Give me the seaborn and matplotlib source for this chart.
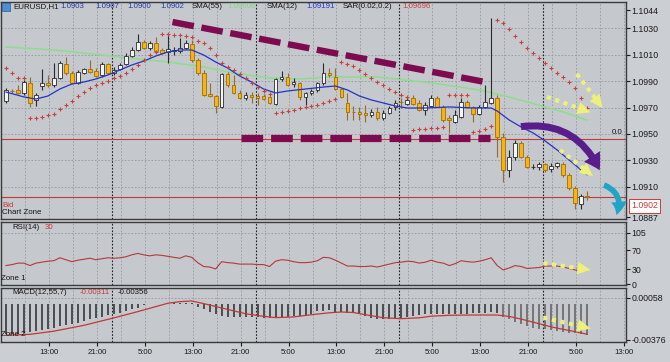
import numpy as np
import matplotlib
matplotlib.use("Agg")
import matplotlib.pyplot as plt
import seaborn as sns
from matplotlib.patches import FancyArrowPatch, Rectangle

plt.rcParams["font.family"] = ["Liberation Sans", "DejaVu Sans"]

# ---- EURUSD H1, values ----
opens = [1.09750, 1.09826, 1.09834, 1.09811, 1.09887, 1.09758, 1.09864, 1.09887, 1.09871, 1.09925,
         1.10031, 1.09962, 1.09887, 1.09962, 1.09993, 1.09978, 1.09947, 1.10031, 1.09962, 1.09993,
         1.10031, 1.10091, 1.10137, 1.10197, 1.10152, 1.10190, 1.10137, 1.10122, 1.10129, 1.10129,
         1.10152, 1.10182, 1.10061, 1.09962, 1.09803, 1.09788, 1.09705, 1.09955, 1.09871, 1.09811,
         1.09773, 1.09796, 1.09788, 1.09788, 1.09781, 1.09727, 1.09917, 1.09932, 1.09879, 1.09887,
         1.09781, 1.09811, 1.09834, 1.09887, 1.09962, 1.09932, 1.09841, 1.09735, 1.09667, 1.09667,
         1.09659, 1.09644, 1.09667, 1.09621, 1.09659, 1.09705, 1.09743, 1.09727, 1.09773, 1.09735,
         1.09682, 1.09712, 1.09773, 1.09705, 1.09621, 1.09591, 1.09629, 1.09743, 1.09705, 1.09652,
         1.09705, 1.09735, 1.09773, 1.09477, 1.09227, 1.09326, 1.09432, 1.09326, 1.09250, 1.09250,
         1.09273, 1.09235, 1.09258, 1.09273, 1.09189, 1.09091, 1.08970, 1.09030]
highs = [1.09849, 1.09841, 1.09871, 1.09909, 1.09932, 1.09811, 1.09993, 1.09947, 1.10038, 1.10053,
         1.10084, 1.09978, 1.09985, 1.10000, 1.10061, 1.10000, 1.10046, 1.10038, 1.10008, 1.10038,
         1.10114, 1.10160, 1.10258, 1.10213, 1.10205, 1.10235, 1.10152, 1.10250, 1.10160, 1.10228,
         1.10213, 1.10213, 1.10076, 1.09985, 1.09887, 1.09796, 1.09962, 1.09970, 1.09947, 1.09834,
         1.09818, 1.09818, 1.09811, 1.09803, 1.09788, 1.09925, 1.09978, 1.09962, 1.09925, 1.09894,
         1.09818, 1.09841, 1.09894, 1.10038, 1.10000, 1.10000, 1.09849, 1.09811, 1.09712, 1.09705,
         1.09720, 1.09690, 1.09705, 1.09682, 1.09712, 1.09758, 1.09773, 1.09781, 1.09796, 1.09758,
         1.09743, 1.09796, 1.09788, 1.09720, 1.09644, 1.09682, 1.09773, 1.09758, 1.09712, 1.09720,
         1.09871, 1.10379, 1.09796, 1.09508, 1.09379, 1.09455, 1.09447, 1.09341, 1.09273, 1.09288,
         1.09280, 1.09280, 1.09288, 1.09288, 1.09205, 1.09106, 1.09045, 1.09070]
lows = [1.09735, 1.09811, 1.09803, 1.09796, 1.09705, 1.09712, 1.09834, 1.09856, 1.09856, 1.09917,
        1.09947, 1.09879, 1.09879, 1.09955, 1.09962, 1.09932, 1.09932, 1.09955, 1.09947, 1.09985,
        1.10023, 1.10084, 1.10129, 1.10144, 1.10137, 1.10114, 1.10106, 1.10038, 1.10099, 1.10114,
        1.10144, 1.10046, 1.09947, 1.09788, 1.09781, 1.09659, 1.09697, 1.09856, 1.09803, 1.09765,
        1.09758, 1.09735, 1.09720, 1.09758, 1.09727, 1.09720, 1.09902, 1.09864, 1.09856, 1.09758,
        1.09720, 1.09796, 1.09818, 1.09871, 1.09932, 1.09834, 1.09773, 1.09606, 1.09606, 1.09606,
        1.09591, 1.09629, 1.09606, 1.09606, 1.09652, 1.09682, 1.09697, 1.09720, 1.09720, 1.09674,
        1.09644, 1.09705, 1.09705, 1.09591, 1.09508, 1.09583, 1.09621, 1.09697, 1.09591, 1.09644,
        1.09697, 1.09727, 1.09326, 1.09136, 1.09174, 1.09303, 1.09318, 1.09242, 1.09235, 1.09227,
        1.09212, 1.09212, 1.09242, 1.09174, 1.09076, 1.08932, 1.08932, 1.09000]
closes = [1.09834, 1.09824, 1.09811, 1.09894, 1.09735, 1.09796, 1.09887, 1.09871, 1.09925, 1.10038,
          1.09962, 1.09887, 1.09970, 1.09993, 1.09970, 1.09940, 1.10031, 1.09962, 1.09985, 1.10023,
          1.10091, 1.10137, 1.10197, 1.10152, 1.10190, 1.10129, 1.10114, 1.10144, 1.10137, 1.10152,
          1.10190, 1.10061, 1.09962, 1.09796, 1.09788, 1.09712, 1.09955, 1.09871, 1.09811, 1.09773,
          1.09796, 1.09781, 1.09773, 1.09765, 1.09735, 1.09917, 1.09932, 1.09871, 1.09894, 1.09781,
          1.09811, 1.09826, 1.09887, 1.09962, 1.09947, 1.09841, 1.09781, 1.09667, 1.09664, 1.09652,
          1.09644, 1.09667, 1.09621, 1.09659, 1.09697, 1.09735, 1.09740, 1.09758, 1.09727, 1.09682,
          1.09720, 1.09773, 1.09705, 1.09606, 1.09606, 1.09644, 1.09743, 1.09705, 1.09652, 1.09705,
          1.09743, 1.09773, 1.09477, 1.09227, 1.09326, 1.09432, 1.09326, 1.09250, 1.09252, 1.09273,
          1.09227, 1.09258, 1.09280, 1.09189, 1.09091, 1.08977, 1.09030, 1.09020]

# Parabolic SAR (0.02, 0.2), one dot per bar
sar = [1.10000, 1.09962, 1.09925, 1.09925, 1.09621, 1.09621, 1.09629, 1.09644, 1.09652, 1.09690,
       1.09720, 1.09750, 1.09788, 1.09818, 1.09849, 1.09871, 1.09887, 1.09902, 1.09925, 1.09940,
       1.09962, 1.09993, 1.10023, 1.10061, 1.10099, 1.10122, 1.10258, 1.10258, 1.10250, 1.10250,
       1.10243, 1.10235, 1.10205, 1.10190, 1.10152, 1.10099, 1.10038, 1.10008, 1.09985, 1.09955,
       1.09925, 1.09887, 1.09856, 1.09826, 1.09803, 1.09659, 1.09667, 1.09674, 1.09682, 1.09697,
       1.09705, 1.09712, 1.09720, 1.09735, 1.09750, 1.09765, 1.10046, 1.10031, 1.10015, 1.09985,
       1.09955, 1.09925, 1.09894, 1.09871, 1.09841, 1.09818, 1.09796, 1.09781, 1.09530, 1.09538,
       1.09538, 1.09546, 1.09546, 1.09553, 1.09796, 1.09796, 1.09796, 1.09796, 1.09515, 1.09523,
       1.09538, 1.09561, 1.10364, 1.10341, 1.10296, 1.10243, 1.10197, 1.10152, 1.10114, 1.10076,
       1.10038, 1.10000, 1.09962, 1.09932, 1.09894, 1.09849, 1.09773, 1.09697]

# moving averages, read at a subset of bars
sma12_bar = [0, 3, 5, 7, 9, 11, 13, 15, 17, 19, 21, 23, 25, 27, 29, 31, 33, 35, 37, 39, 41, 43, 45,
             47, 50, 53, 55, 57, 59, 61, 63, 65, 67, 70, 74, 78, 81, 82, 84, 86, 88, 90, 92, 94, 96, 97]
sma12 = [1.09818, 1.09781, 1.09765, 1.09788, 1.09841, 1.09879, 1.09894, 1.09917, 1.09947, 1.09985,
         1.10023, 1.10053, 1.10091, 1.10122, 1.10137, 1.10137, 1.10099, 1.10046, 1.10000, 1.09940,
         1.09894, 1.09841, 1.09811, 1.09826, 1.09841, 1.09856, 1.09864, 1.09834, 1.09788, 1.09758,
         1.09735, 1.09712, 1.09697, 1.09697, 1.09705, 1.09697, 1.09697, 1.09674, 1.09606, 1.09553,
         1.09508, 1.09447, 1.09379, 1.09303, 1.09227, 1.09191]
sma55_bar = [0, 8, 16, 22, 27, 33, 38, 44, 49, 54, 62, 71, 79, 82, 87, 93, 97]
sma55 = [1.10160, 1.10137, 1.10099, 1.10069, 1.10046, 1.10008, 1.09962, 1.09925, 1.09917, 1.09932,
         1.09932, 1.09887, 1.09834, 1.09803, 1.09743, 1.09667, 1.09606]

rsi = [38, 40, 43, 43, 38, 43, 45, 47, 48, 54, 50, 46, 49, 51, 53, 50, 52, 54, 53, 54,
       56, 60, 63, 60, 58, 60, 59, 57, 55, 53, 58, 55, 44, 36, 35, 31, 46, 44, 43, 41,
       41, 41, 40, 40, 36, 47, 50, 49, 46, 44, 44, 45, 48, 55, 54, 49, 43, 37, 37, 36,
       36, 37, 35, 38, 41, 44, 45, 47, 46, 43, 45, 49, 45, 43, 38, 42, 48, 46, 45, 47,
       50, 54, 38, 29, 33, 38, 36, 32, 33, 34, 37, 37, 37, 35, 32, 29, 27, 28]

macd_hist = [-0.00317, -0.00317, -0.00311, -0.00301, -0.00293, -0.00283, -0.00273, -0.00259, -0.00249, -0.00231,
             -0.00221, -0.00208, -0.00197, -0.00180, -0.00162, -0.00152, -0.00138, -0.00121, -0.00104, -0.00094,
             -0.00076, -0.00059, -0.00042, -0.00018, -0.00008, -0.00006, -0.00005, -0.00003, 0.00010, 0.00010,
             0.00010, 0.00005, -0.00032, -0.00059, -0.00087, -0.00111, -0.00128, -0.00135, -0.00135, -0.00138,
             -0.00138, -0.00135, -0.00135, -0.00146, -0.00146, -0.00146, -0.00146, -0.00135, -0.00128, -0.00128,
             -0.00121, -0.00105, -0.00080, -0.00080, -0.00066, -0.00087, -0.00087, -0.00094, -0.00101, -0.00111,
             -0.00128, -0.00146, -0.00156, -0.00163, -0.00163, -0.00156, -0.00146, -0.00135, -0.00128, -0.00121,
             -0.00111, -0.00111, -0.00111, -0.00111, -0.00111, -0.00111, -0.00111, -0.00111, -0.00101, -0.00101,
             -0.00094, -0.00087, -0.00094, -0.00135, -0.00163, -0.00190, -0.00214, -0.00231, -0.00249, -0.00259,
             -0.00266, -0.00273, -0.00283, -0.00293, -0.00301, -0.00307, -0.00317, -0.00328]
signal_bar = [0, 4, 8, 13, 18, 22, 27, 29, 31, 33, 36, 40, 43, 45, 48, 51, 54, 56, 58, 60,
              63, 66, 69, 71, 74, 78, 82, 84, 86, 89, 91, 93, 95, 97]
signal = [-0.00327, -0.00318, -0.00285, -0.00225, -0.00148, -0.00083, 0.00003, 0.00020, 0.00027, 0.00000,
          -0.00045, -0.00105, -0.00132, -0.00145, -0.00138, -0.00115, -0.00095, -0.00087, -0.00092, -0.00115,
          -0.00146, -0.00156, -0.00147, -0.00130, -0.00121, -0.00118, -0.00118, -0.00133, -0.00160, -0.00208,
          -0.00240, -0.00266, -0.00290, -0.00317]

time_labels = ["13:00", "21:00", "5:00", "13:00", "21:00", "5:00", "13:00",
               "21:00", "5:00", "13:00", "21:00", "5:00", "13:00"]
day_breaks = [17.67, 41.67, 65.67, 89.67]
price_ticks = [1.1044, 1.1030, 1.1010, 1.0990, 1.0970, 1.0950, 1.0930, 1.0910, 1.0887]
level_line = 1.09462
bid = 1.0902

# ---- colours ----
BG = "#c5c8cd"
GRID = "#959aa1"
FRAME = "#3a3a3a"
BULL, BEAR = "#f3f6f6", "#f4b414"
RED = "#c23a3a"
PURPLE_DASH = "#7e0a50"
PURPLE = "#5a1e8c"
YEL = "#eef07c"
TEAL = "#22a4c6"

W, H = 670, 362
fig = plt.figure(figsize=(W / 100, H / 100), dpi=100, facecolor="#cbced2")


def box(x0, y0, x1, y1):
    return [x0 / W, 1 - y1 / H, (x1 - x0) / W, (y1 - y0) / H]


ax = fig.add_axes(box(1, 2, 626, 219))
ax_rsi = fig.add_axes(box(1, 222, 626, 285))
ax_macd = fig.add_axes(box(1, 288, 626, 342))

bars = np.arange(len(closes))
xmin, xmax = -0.83, 103.5
grid_x = np.arange(3.17, xmax, 4)

for a in (ax, ax_rsi, ax_macd):
    a.set_facecolor(BG)
    a.set_xlim(xmin, xmax)
    for s in a.spines.values():
        s.set_color(FRAME)
        s.set_linewidth(1.0)
    for gx in grid_x:
        a.axvline(gx, color=GRID, lw=0.6, ls=(0, (2, 2)), zorder=0)
    for d in day_breaks:
        a.axvline(d, color="#1e1e1e", lw=0.8, ls=(0, (1.5, 1.5)), zorder=1)
    a.yaxis.tick_right()
    a.tick_params(axis="y", length=3, width=0.8, pad=1, labelsize=6.3, colors="#1a1a1a")

# ---- main price panel ----
for p in price_ticks[1:-1]:
    ax.axhline(p, color=GRID, lw=0.6, ls=(0, (2, 2)), zorder=0)

ax.axhline(level_line, color=RED, lw=0.8, zorder=1)
ax.axhline(bid, color=RED, lw=0.8, zorder=1)

sns.lineplot(x=sma55_bar, y=sma55, ax=ax, color="#8edc8e", lw=1.1, zorder=2)
sns.lineplot(x=sma12_bar, y=sma12, ax=ax, color="#2433c8", lw=0.9, zorder=4)

o, h, l, c = map(np.array, (opens, highs, lows, closes))
up = c >= o
ax.vlines(bars[up], l[up], h[up], color="#2a2a2a", lw=0.8, zorder=3)
ax.vlines(bars[~up], l[~up], h[~up], color="#9a6a28", lw=0.8, zorder=3)
body_lo = np.minimum(o, c)
body_h = np.maximum(np.abs(c - o), 0.000012)
ax.bar(bars[up], body_h[up], bottom=body_lo[up], width=0.62, color=BULL,
       edgecolor="#2a2a2a", linewidth=0.6, zorder=3)
ax.bar(bars[~up], body_h[~up], bottom=body_lo[~up], width=0.62, color=BEAR,
       edgecolor="#a36d00", linewidth=0.6, zorder=3)

sns.scatterplot(x=bars, y=sar, ax=ax, marker="+", s=10, color="#c8413f",
                linewidth=0.8, zorder=5, legend=False)

ax.set_xlim(xmin, xmax)
ax.set_ylim(1.08855, 1.10501)
ax.set_yticks(price_ticks)
ax.set_yticklabels([f"{p:.4f}" for p in price_ticks])
ax.set_xticks([])
ax.set_xlabel("")
ax.set_ylabel("")

# hand drawn trend marks
ax.plot([27.8, 80.8], [1.10349, 1.09887], color=PURPLE_DASH, lw=4.6,
        dashes=(3.4, 1.2), dash_capstyle="butt", zorder=7)
ax.plot([39.2, 80.8], [1.09470, 1.09470], color=PURPLE_DASH, lw=5.2,
        dashes=(3.0, 1.1), dash_capstyle="butt", zorder=7)

ax.add_patch(FancyArrowPatch((85.5, 1.09553), (99.3, 1.09205),
                             connectionstyle="arc3,rad=-0.38",
                             arrowstyle="simple,head_length=0.95,head_width=1.15,tail_width=0.42",
                             mutation_scale=12, color=PURPLE, lw=0, zorder=8, clip_on=False))
ax.add_patch(FancyArrowPatch((99.4, 1.09121), (101.7, 1.08866),
                             connectionstyle="arc3,rad=-0.55",
                             arrowstyle="simple,head_length=0.8,head_width=0.95,tail_width=0.34",
                             mutation_scale=12, color=TEAL, lw=0, zorder=8, clip_on=False))


def dotted_arrow(a, x0, y0, x1, y1):
    xm, ym = x0 + 0.78 * (x1 - x0), y0 + 0.78 * (y1 - y0)
    a.plot([x0, xm], [y0, ym], color=YEL, lw=3.0, ls=(0, (1.0, 1.1)),
           dash_capstyle="butt", zorder=9)
    a.annotate("", xy=(x1, y1), xytext=(xm, ym), zorder=9,
               arrowprops=dict(arrowstyle="-|>,head_length=0.95,head_width=0.45",
                               color=YEL, lw=0, mutation_scale=10, shrinkA=0, shrinkB=0))


dotted_arrow(ax, 90.3, 1.09781, 97.6, 1.09664)
dotted_arrow(ax, 95.3, 1.09955, 99.6, 1.09697)
dotted_arrow(ax, 92.5, 1.09379, 98.0, 1.09180)

# ---- RSI panel ----
ax_rsi.axhline(105, color=GRID, lw=0.6, ls=(0, (2, 2)), zorder=0)
sns.lineplot(x=bars, y=rsi, ax=ax_rsi, color="#b5393a", lw=0.8, zorder=3)
ax_rsi.set_yticks([105, 70, 30, 0])
ax_rsi.set_yticklabels(["105", "70", "30", "0"])
ax_rsi.set_xticks([])
ax_rsi.set_xlim(xmin, xmax)
ax_rsi.set_ylim(-2, 127.6)
ax_rsi.set_xlabel("")
ax_rsi.set_ylabel("")
dotted_arrow(ax_rsi, 89.7, 43, 97.6, 29)

# ---- MACD panel ----
ax_macd.axhline(0.00058, color=GRID, lw=0.6, ls=(0, (2, 2)), zorder=0)
hist_col = ["#2b2b2b" if i < 83 else "#5e5e5e" for i in bars]
ax_macd.vlines(bars, 0, macd_hist, colors=hist_col, lw=1.1, zorder=3)
sns.lineplot(x=signal_bar, y=signal, ax=ax_macd, color="#c0393a", lw=0.9, zorder=4)
ax_macd.set_yticks([0.00058, -0.00376])
ax_macd.set_yticklabels(["0.00058", "-0.00376"])
ax_macd.set_xticks(np.arange(7.17, xmax, 8)[:len(time_labels)])
ax_macd.set_xticklabels(time_labels)
ax_macd.tick_params(axis="x", length=3, width=0.8, pad=2, labelsize=5.6, colors="#1a1a1a")
ax_macd.set_xlim(xmin, xmax)
ax_macd.set_ylim(-0.00397, 0.00161)
ax_macd.set_xlabel("")
ax_macd.set_ylabel("")
dotted_arrow(ax_macd, 89.7, -0.00145, 97.6, -0.00258)

# ---- texts ----
def label(x, y, s, color="#141414", size=5.7, **kw):
    fig.text(x / W, 1 - y / H, s, color=color, fontsize=size, ha="left", va="center", **kw)


fig.patches.append(Rectangle((2 / W, 1 - 11 / H), 8 / W, 8 / H, transform=fig.transFigure,
                             facecolor="#4d8fd6", edgecolor="#2a5c9a", lw=0.5, zorder=10))
label(13, 7, "EURUSD,H1")
for xx, s in [(60, "1.0903"), (95, "1.0907"), (127, "1.0900"), (160, "1.0902")]:
    label(xx, 7, s, color="#243aa8")
label(192, 7, "SMA(55)")
label(227, 7, "1.09606", color="#86d486")
label(267, 7, "SMA(12)")
label(306, 7, "1.09191", color="#2437d8")
label(343, 7, "SAR(0.02,0.2)")
label(402, 7, "1.09696", color="#c84040")
label(612, 133, "0.0")
label(2, 205, "Bid", color="#c83a3a")
label(2, 213, "Chart Zone")
label(12, 228, "RSI(14)")
label(45, 228, "30", color="#c83a3a")
label(1, 279, "Zone 1")
label(12, 293, "MACD(12,55,7)")
label(80, 293, "-0.00311", color="#c83a3a")
label(118, 293, "-0.00356")
label(1, 335, "Zone 2")
fig.text(631 / W, 1 - 206 / H, "1.0902", color="#c83a3a", fontsize=6.3, ha="left", va="center",
         bbox=dict(facecolor="white", edgecolor="#c83a3a", boxstyle="square,pad=0.25", lw=0.7))

fig.savefig("out.png", dpi=100, facecolor=fig.get_facecolor())
